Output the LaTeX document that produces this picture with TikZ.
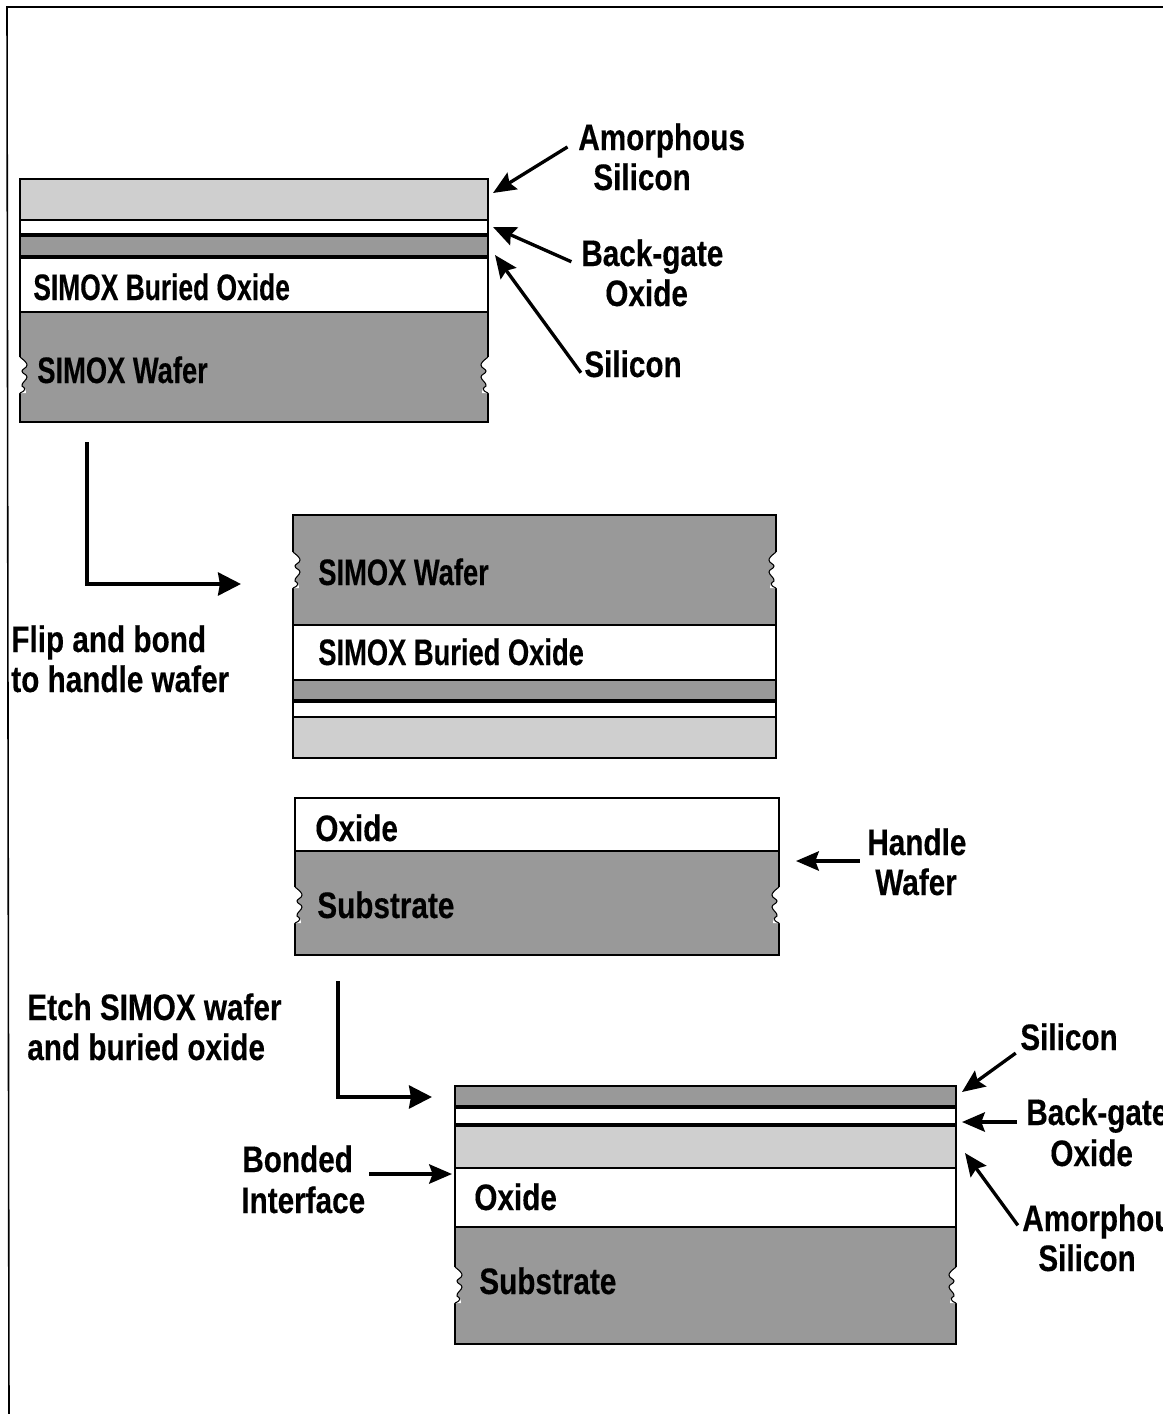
\documentclass[tikz,border=0pt]{standalone}
\usepackage{fontspec}
\newfontfamily\labelfont[FakeStretch=0.805,FakeBold=0.3]{Liberation Sans}
\newfontfamily\capsfont[FakeStretch=0.74,FakeBold=0.3]{Liberation Sans}
\newfontfamily\tightfont[FakeStretch=0.715,FakeBold=0.3]{Liberation Sans}
\usetikzlibrary{arrows.meta}
\definecolor{darksi}{gray}{0.60}
\definecolor{lightsi}{gray}{0.81}
\tikzset{
  darklayer/.style={draw=black,line width=0.7pt,fill=darksi},
  lightlayer/.style={draw=black,line width=0.7pt,fill=lightsi},
  oxidelayer/.style={draw=black,line width=0.7pt,fill=white},
  seam/.style={line width=1.1pt},
  boldseam/.style={line width=1.9pt},
  txt/.style={anchor=base west,inner sep=0pt,font=\labelfont\bfseries\fontsize{21}{21}\selectfont},
  capstxt/.style={txt,font=\capsfont\bfseries\fontsize{21}{21}\selectfont},
  tighttxt/.style={txt,font=\tightfont\bfseries\fontsize{21}{21}\selectfont},
  pointer/.style={line width=1.9pt,-{Stealth[length=13pt,width=11pt,inset=2pt]}},
  process/.style={line width=2.4pt,-{Stealth[length=13pt,width=13pt,inset=1pt]}},
  wafernotch/.pic={
    \fill[white] (-2,-18) -- (0,-18) .. controls (5,-14) and (7,-12) .. (7,-10)
      .. controls (7,-7) and (2,-6) .. (2,-4) .. controls (2,-1) and (7,-1) .. (7,2)
      .. controls (7,5) and (1,8) .. (2,11) .. controls (5,13) and (7,15) .. (6,18)
      -- (0,18) -- (-2,18) -- cycle;
    \draw[line width=0.6pt] (0,-18) .. controls (5,-14) and (7,-12) .. (7,-10)
      .. controls (7,-7) and (2,-6) .. (2,-4) .. controls (2,-1) and (7,-1) .. (7,2)
      .. controls (7,5) and (1,8) .. (2,11) .. controls (5,13) and (7,15) .. (0,18);
  }
}
\begin{document}
\begin{tikzpicture}[x=0.02cm,y=-0.02cm]
  \useasboundingbox (0,0) rectangle (1163,1414);
  \clip (0,0) rectangle (1163,1414);
  \fill[white] (0,0) rectangle (1163,1414);
  \draw[line width=0.9pt] (1163,7)--(7,7)--(9,1414);

  % top wafer
  \draw[lightlayer] (20,179) rectangle (488,220);
  \draw[oxidelayer] (20,220) rectangle (488,235);
  \draw[darklayer] (20,235) rectangle (488,257);
  \draw[oxidelayer] (20,257) rectangle (488,312);
  \draw[darklayer] (20,312) rectangle (488,422);
  \draw[seam] (20,220)--(488,220);
  \draw[boldseam] (20,235)--(488,235);
  \draw[boldseam] (20,257)--(488,257);
  \pic at (20,375) {wafernotch};
  \pic[xscale=-1] at (488,375) {wafernotch};
  \node[tighttxt] (buriedA) at (33,300) {SIMOX Buried Oxide};
  \node[capstxt] (simoxA) at (37,383) {SIMOX Wafer};

  % flipped wafer
  \draw[darklayer] (293,515) rectangle (776,625);
  \draw[oxidelayer] (293,625) rectangle (776,680);
  \draw[darklayer] (293,680) rectangle (776,701);
  \draw[oxidelayer] (293,701) rectangle (776,717);
  \draw[lightlayer] (293,717) rectangle (776,758);
  \draw[seam] (293,680)--(776,680);
  \draw[boldseam] (293,701)--(776,701);
  \draw[seam] (293,717)--(776,717);
  \pic at (293,570) {wafernotch};
  \pic[xscale=-1] at (776,570) {wafernotch};
  \node[capstxt] (simoxB) at (318,585) {SIMOX Wafer};
  \node[capstxt] (buriedB) at (318,665) {SIMOX Buried Oxide};

  % handle wafer
  \draw[oxidelayer] (295,798) rectangle (779,851);
  \draw[darklayer] (295,851) rectangle (779,955);
  \pic at (295,905) {wafernotch};
  \pic[xscale=-1] at (779,905) {wafernotch};
  \node[txt] (oxideC) at (315,841) {Oxide};
  \node[txt] (subC) at (317,918) {Substrate};

  % finished wafer
  \draw[darklayer] (455,1086) rectangle (956,1107);
  \draw[oxidelayer] (455,1107) rectangle (956,1125);
  \draw[lightlayer] (455,1125) rectangle (956,1168);
  \draw[oxidelayer] (455,1168) rectangle (956,1227);
  \draw[darklayer] (455,1227) rectangle (956,1344);
  \draw[boldseam] (455,1107)--(956,1107);
  \draw[boldseam] (455,1125)--(956,1125);
  \draw[seam] (455,1168)--(956,1168);
  \draw[seam] (455,1227)--(956,1227);
  \pic at (455,1285) {wafernotch};
  \pic[xscale=-1] at (956,1285) {wafernotch};
  \node[txt] (oxideD) at (474,1210) {Oxide};
  \node[txt] (subD) at (479,1294) {Substrate};

  % labels
  \node[txt] (amorphA) at (578,150) {Amorphous};
  \node[txt] (amorphAb) at (593,190) {Silicon};
  \node[txt] (gateA) at (581,266) {Back-gate};
  \node[txt] (gateAb) at (605,306) {Oxide};
  \node[txt] (siA) at (584,377) {Silicon};
  \node[txt] (flip) at (11,652) {Flip and bond};
  \node[txt] (flipb) at (11,692) {to handle wafer};
  \node[txt] (handle) at (867,855) {Handle};
  \node[txt] (handleb) at (875,895) {Wafer};
  \node[txt] (etch) at (27,1020) {Etch SIMOX wafer};
  \node[txt] (etchb) at (27,1060) {and buried oxide};
  \node[txt] (bonded) at (242,1172) {Bonded};
  \node[txt] (bondedb) at (241,1213) {Interface};
  \node[txt] (siD) at (1020,1050) {Silicon};
  \node[txt] (gateD) at (1026,1125) {Back-gate};
  \node[txt] (gateDb) at (1050,1166) {Oxide};
  \node[txt] (amorphD) at (1022,1231) {Amorphous};
  \node[txt] (amorphDb) at (1038,1271) {Silicon};

  % pointers
  \coordinate (tipamorphA) at (493,193);
  \coordinate (tipgateA) at (493,227);
  \coordinate (tipsiA) at (495,255);
  \coordinate (tiphandle) at (796,861);
  \coordinate (tipbonded) at (452,1174);
  \coordinate (tipsiD) at (962,1092);
  \coordinate (tipgateD) at (962,1122);
  \coordinate (tipamorphD) at (965,1153);
  \draw[pointer,shorten <=7pt] (amorphA.west)--(tipamorphA);
  \draw[pointer,shorten <=6pt] (gateA.base west)--(tipgateA);
  \draw[pointer,shorten <=3pt] (siA.base west)--(tipsiA);
  \draw[pointer,shorten <=4pt] (handle.west |- tiphandle)--(tiphandle);
  \draw[pointer,shorten <=9pt] (bonded.east |- tipbonded)--(tipbonded);
  \draw[pointer,shorten <=3pt] (siD.base west)--(tipsiD);
  \draw[pointer,shorten <=5pt] (gateD.west |- tipgateD)--(tipgateD);
  \draw[pointer,shorten <=4pt] (amorphD.base west)--(tipamorphD);

  % process steps
  \coordinate (flipstart) at (87,442);
  \coordinate (flipend) at (241,584);
  \coordinate (etchstart) at (338,981);
  \coordinate (etchend) at (432,1097);
  \draw[process] (flipstart) |- (flipend);
  \draw[process] (etchstart) |- (etchend);
\end{tikzpicture}
\end{document}
